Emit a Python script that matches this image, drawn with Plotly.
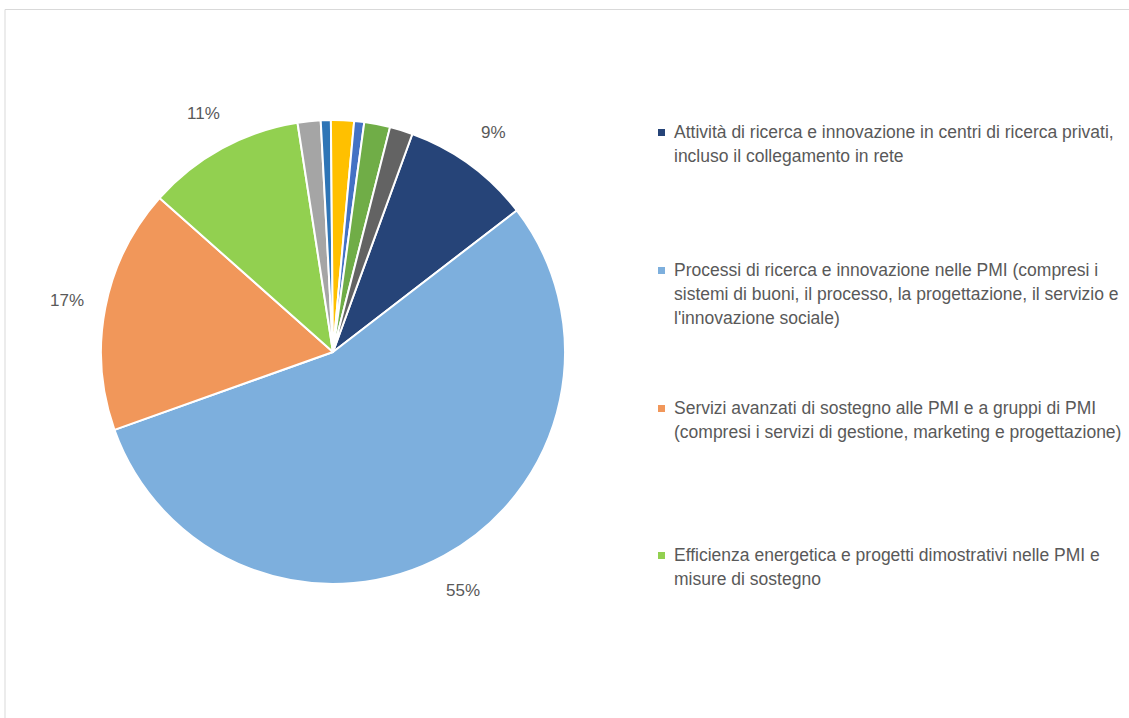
import math
import plotly.graph_objects as go

# Share of funding by intervention field (percent)
categories = [
    "Attività di ricerca e innovazione in centri di ricerca privati, incluso il collegamento in rete",
    "Processi di ricerca e innovazione nelle PMI",
    "Servizi avanzati di sostegno alle PMI e a gruppi di PMI",
    "Efficienza energetica e progetti dimostrativi nelle PMI e misure di sostegno",
    "Altro 1", "Altro 2", "Altro 3", "Altro 4", "Altro 5", "Altro 6",
]
values = [9, 55, 17, 11, 1.6, 0.7, 1.6, 0.7, 1.8, 1.6]
slice_colors = ["#264478", "#7dafdd", "#f1975a", "#92d050",
                "#a5a5a5", "#2e75b6", "#ffc000", "#4472c4", "#70ad47", "#636363"]

# Legend text, one list of lines per entry (first four categories only)
legend_lines = [
    ["Attività di ricerca e innovazione in centri di ricerca privati,",
     "incluso il collegamento in rete"],
    ["Processi di ricerca e innovazione nelle PMI (compresi i",
     "sistemi di buoni, il processo, la progettazione, il servizio e",
     "l'innovazione sociale)"],
    ["Servizi avanzati di sostegno alle PMI e a gruppi di PMI",
     "(compresi i servizi di gestione, marketing e progettazione)"],
    ["Efficienza energetica e progetti dimostrativi nelle PMI e",
     "misure di sostegno"],
]
labelled = 4  # slices that carry a percentage label

W, H = 1129, 718
CX, CY, R = 333, 352, 232      # pie centre and radius in pixels
START = 20                      # first slice starts 20 degrees clockwise from 12 o'clock
TEXT = "#595959"
FONT = "Liberation Sans, Arial, sans-serif"

fig = go.Figure()
fig.add_trace(go.Pie(
    labels=categories,
    values=values,
    sort=False,
    direction="clockwise",
    rotation=START,
    marker=dict(colors=slice_colors, line=dict(color="white", width=2)),
    textinfo="none",
    hoverinfo="label+percent",
    showlegend=False,
    domain=dict(x=[(CX - R) / W, (CX + R) / W],
                y=[(H - CY - R) / H, (H - CY + R) / H]),
))

annotations = []

# Percentage labels outside the slices, at each slice's mid angle
total = sum(values)
acc = 0.0
for i, v in enumerate(values):
    mid = START + (acc + v / 2) / total * 360
    acc += v
    if i >= labelled:
        continue
    a = math.radians(mid)
    lr = R * 1.17
    px = CX + lr * math.sin(a)
    py = CY - lr * math.cos(a)
    annotations.append(dict(
        x=px / W, y=1 - py / H, xref="paper", yref="paper",
        text=f"{round(v / total * 100)}%", showarrow=False,
        xanchor="center", yanchor="middle",
        font=dict(family=FONT, size=17, color=TEXT),
    ))

# Legend drawn as square swatches with wrapped text lines
entry_tops = [132, 270, 408, 555]
line_step = 24
shapes = []
for k, lines in enumerate(legend_lines):
    y0 = entry_tops[k]
    shapes.append(dict(
        type="rect", xref="paper", yref="paper",
        x0=658 / W, x1=665 / W,
        y0=1 - (y0 + 4) / H, y1=1 - (y0 - 3) / H,
        fillcolor=slice_colors[k], line=dict(width=0),
    ))
    for j, line in enumerate(lines):
        annotations.append(dict(
            x=672 / W, y=1 - (y0 + j * line_step) / H,
            xref="paper", yref="paper", text=line, showarrow=False,
            xanchor="left", yanchor="middle",
            font=dict(family=FONT, size=17.5, color=TEXT),
        ))

# Thin chart-area frame along the top and left edges
frame = "#d9d9d9"
shapes.append(dict(type="line", xref="paper", yref="paper",
                   x0=5 / W, x1=1, y0=1 - 9.5 / H, y1=1 - 9.5 / H,
                   line=dict(color=frame, width=1)))
shapes.append(dict(type="line", xref="paper", yref="paper",
                   x0=5 / W, x1=5 / W, y0=0, y1=1 - 9.5 / H,
                   line=dict(color=frame, width=1)))

fig.update_layout(
    width=W, height=H,
    margin=dict(l=0, r=0, t=0, b=0),
    paper_bgcolor="white",
    plot_bgcolor="white",
    annotations=annotations,
    shapes=shapes,
    font=dict(family=FONT, color=TEXT),
)

fig.write_html("out.html")
